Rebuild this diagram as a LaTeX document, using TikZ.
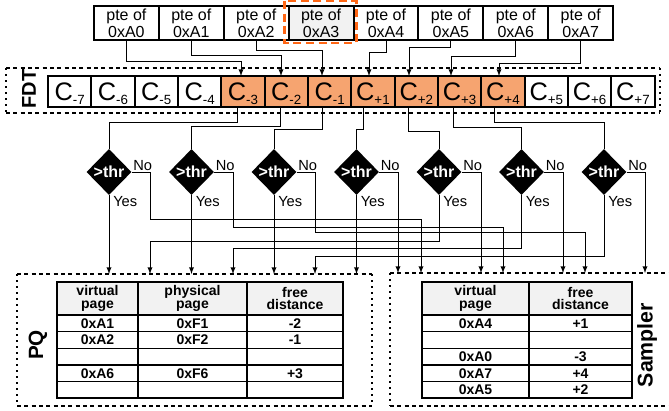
\documentclass[tikz,border=0pt]{standalone}
\usepackage{fontspec}
\setmainfont{Liberation Sans}
\usetikzlibrary{calc,positioning,arrows,shapes}
\definecolor{fdtorange}{RGB}{246,164,112}
\definecolor{hiorange}{RGB}{255,102,20}
\definecolor{hdrgray}{RGB}{242,242,242}
\newcommand{\fdtc}[1]{C\raisebox{-3.5pt}[0pt][0pt]{\fontsize{10}{10}\selectfont#1}}

\begin{document}
\begin{tikzpicture}[x=0.75pt,y=-0.75pt]
\tikzstyle{ptebox}=[draw, line width=1.5pt, minimum width=48.675pt, minimum height=25.5pt, inner sep=0pt, outer sep=0pt, align=center, font=\fontsize{12}{12.75}\selectfont]
\tikzstyle{cbox}=[draw, line width=1.5pt, minimum width=32.5pt, minimum height=23.25pt, inner sep=0pt, outer sep=0pt, font=\fontsize{19}{19}\selectfont]
\tikzstyle{hot}=[cbox, fill=fdtorange]
\tikzstyle{thr}=[diamond, fill=black, minimum width=33.75pt, minimum height=34.5pt, inner sep=0pt,
  label={[text=white, font=\fontsize{12}{12}\bfseries]center:>thr},
  label={[anchor=south west, inner sep=1pt, font=\fontsize{11}{11}\selectfont]east:No},
  label={[anchor=north west, inner sep=1pt, xshift=2pt, font=\fontsize{11}{11}\selectfont]south:Yes}]
\tikzstyle{wire}=[line width=0.75pt]
\tikzstyle{arr}=[wire, ->, >=latex]
\tikzstyle{frame}=[inner sep=0pt, outer sep=0pt]
\tikzstyle{boxdash}=[line width=1pt, dash pattern=on 3pt off 2.5pt]
\tikzstyle{boxdot}=[line width=1pt, dash pattern=on 1.5pt off 3pt]
\tikzstyle{hilite}=[draw=hiorange, line width=2.2pt, dash pattern=on 6pt off 3.5pt]
\tikzstyle{cell}=[inner sep=0pt, font=\fontsize{10.5}{10.5}\bfseries]
\tikzstyle{head}=[cell, align=center, font=\fontsize{10.5}{9.5}\bfseries]
\tikzstyle{side}=[rotate=90, inner sep=0pt, font=\fontsize{15.5}{15.5}\bfseries]

\clip (0,0) rectangle (669,411);

% frames
\node[frame, minimum width=490.5pt, minimum height=33.75pt] (fdt) at (333,90.5) {};
\node[frame, minimum width=266.25pt, minimum height=99pt] (pq) at (194.5,340) {};
\node[frame, minimum width=232.5pt, minimum height=99.75pt] (smp) at (545,339.5) {};
\draw[boxdash] (fdt.north west) -- (fdt.north east) (fdt.south west) -- (fdt.south east);
\draw[boxdot] (fdt.north west) -- (fdt.south west) (fdt.north east) -- (fdt.south east);
\draw[boxdash] (pq.north west) -- (pq.north east) (pq.south west) -- (pq.south east);
\draw[boxdot] (pq.north west) -- (pq.south west) (pq.north east) -- (pq.south east);
\draw[boxdash] (smp.north west) -- (smp.north east) (smp.south west) -- (smp.south east);
\draw[boxdot] (smp.north west) -- (smp.south west);

% page table entries
\node[ptebox] (pte0) at (126.4,23) {pte of\\0xA0};
\node[ptebox, right=0pt of pte0] (pte1) {pte of\\0xA1};
\node[ptebox, right=0pt of pte1] (pte2) {pte of\\0xA2};
\node[ptebox, fill=hdrgray, right=0pt of pte2] (pte3) {pte of\\0xA3};
\node[ptebox, right=0pt of pte3] (pte4) {pte of\\0xA4};
\node[ptebox, right=0pt of pte4] (pte5) {pte of\\0xA5};
\node[ptebox, right=0pt of pte5] (pte6) {pte of\\0xA6};
\node[ptebox, right=0pt of pte6] (pte7) {pte of\\0xA7};
\draw[hilite] ($(pte3.north west)+(-4,-5)$) rectangle ($(pte3.south east)+(2.5,3)$);

% FDT entries
\node[side, font=\fontsize{15}{15}\bfseries] (fdtlab) at (29,89) {FDT};
\node[cbox] (cm7) at (69.6,91.5) {\fdtc{-7}};
\node[cbox, right=0pt of cm7] (cm6) {\fdtc{-6}};
\node[cbox, right=0pt of cm6] (cm5) {\fdtc{-5}};
\node[cbox, right=0pt of cm5] (cm4) {\fdtc{-4}};
\node[hot, right=0pt of cm4] (cm3) {\fdtc{-3}};
\node[hot, right=0pt of cm3] (cm2) {\fdtc{-2}};
\node[hot, right=0pt of cm2] (cm1) {\fdtc{-1}};
\node[hot, right=0pt of cm1] (cp1) {\fdtc{+1}};
\node[hot, right=0pt of cp1] (cp2) {\fdtc{+2}};
\node[hot, right=0pt of cp2] (cp3) {\fdtc{+3}};
\node[hot, right=0pt of cp3] (cp4) {\fdtc{+4}};
\node[cbox, right=0pt of cp4] (cp5) {\fdtc{+5}};
\node[cbox, right=0pt of cp5] (cp6) {\fdtc{+6}};
\node[cbox, right=0pt of cp6] (cp7) {\fdtc{+7}};

\draw[arr] (pte0.south) |- (241,61) -- (241,0 |- cm3.north);
\draw[arr] (pte1.south) |- (281,55) -- (281,0 |- cm2.north);
\draw[arr] (pte2.south) |- (322,50) -- (322,0 |- cm1.north);
\draw[arr] (pte4.south) |- (369,52) -- (369,0 |- cp1.north);
\draw[arr] (pte5.south) |- (409,47) -- (409,0 |- cp2.north);
\draw[arr] (pte6.south) |- (451,56) -- (451,0 |- cp3.north);
\draw[arr] (pte7.south) |- (499,63) -- (499,0 |- cp4.north);

% threshold checks
\node[thr] (d1) at (109,172) {};
\node[thr] (d2) at (191.5,172) {};
\node[thr] (d3) at (274,172) {};
\node[thr] (d4) at (356.5,172) {};
\node[thr] (d5) at (439,172) {};
\node[thr] (d6) at (521.5,172) {};
\node[thr] (d7) at (604,172) {};

\draw[wire] (237,0 |- cm3.south) -- (237,122) -| (d1.north);
\draw[wire] (280,0 |- cm2.south) -- (280,126) -| (d2.north);
\draw[wire] (322,0 |- cm1.south) -- (322,129) -| (d3.north);
\draw[wire] (363,0 |- cp1.south) -- (363,129) -| (d4.north);
\draw[wire] (408,0 |- cp2.south) -- (408,131) -| (d5.north);
\draw[wire] (453,0 |- cp3.south) -- (453,127) -| (d6.north);
\draw[wire] (494,0 |- cp4.south) -- (494,122) -| (d7.north);

\draw[arr] (d1.south) -- (d1.south |- pq.north);
\draw[arr] (d2.south) -- (d2.south |- pq.north);
\draw[arr] (d3.south) -- (d3.south |- pq.north);
\draw[arr] (d4.south) -- (d4.south |- pq.north);
\draw[arr] (d5.south) |- (150,241) -- (150,0 |- pq.north);
\draw[arr] (d6.south) |- (233,248) -- (233,0 |- pq.north);
\draw[arr] (d7.south) |- (315,256) -- (315,0 |- pq.north);
\draw[arr] (d1.east) -| (150,219) -| (421,0 |- smp.north);
\draw[arr] (d2.east) -| (233,227) -| (503,0 |- smp.north);
\draw[arr] (d3.east) -| (315,232) -| (585,0 |- smp.north);
\draw[arr] (d4.east) -| (398,0 |- smp.north);
\draw[arr] (d5.east) -| (481,0 |- smp.north);
\draw[arr] (d6.east) -| (563,0 |- smp.north);
\draw[arr] (d7.east) -| (645,0 |- smp.north);

% PQ table
\node[side] (pqlab) at (38,345) {PQ};
\fill[hdrgray] (57,282) rectangle (343,315);
\draw[line width=1pt] (57,315) -- (343,315) (57,331.7) -- (343,331.7) (57,348.3) -- (343,348.3)
  (57,365) -- (343,365) (57,381.7) -- (343,381.7) (138,282) -- (138,398) (247,282) -- (247,398);
\draw[line width=1.5pt] (57,282) rectangle (343,398);
\node[head] (pqh1) at (97.5,298.5) {virtual\\page};
\node[head] (pqh2) at (192.5,298.5) {physical\\page};
\node[head] (pqh3) at (295,298.5) {free\\distance};
\node[cell] (pqa1) at (97.5,323.3) {0xA1};
\node[cell] (pqb1) at (192.5,323.3) {0xF1};
\node[cell] (pqc1) at (295,323.3) {-2};
\node[cell] (pqa2) at (97.5,340) {0xA2};
\node[cell] (pqb2) at (192.5,340) {0xF2};
\node[cell] (pqc2) at (295,340) {-1};
\node[cell] (pqa4) at (97.5,373.3) {0xA6};
\node[cell] (pqb4) at (192.5,373.3) {0xF6};
\node[cell] (pqc4) at (295,373.3) {+3};

% Sampler table
\node[side, font=\fontsize{16}{16}\bfseries] (smplab) at (647,345) {Sampler};
\fill[hdrgray] (422,282) rectangle (632,315);
\draw[line width=1pt] (422,315) -- (632,315) (422,331.7) -- (632,331.7) (422,348.3) -- (632,348.3)
  (422,365) -- (632,365) (422,381.7) -- (632,381.7) (529,282) -- (529,398);
\draw[line width=1.5pt] (422,282) rectangle (632,398);
\node[head] (smh1) at (475.5,298.5) {virtual\\page};
\node[head] (smh2) at (580.5,298.5) {free\\distance};
\node[cell] (sma1) at (475.5,323.3) {0xA4};
\node[cell] (smb1) at (580.5,323.3) {+1};
\node[cell] (sma3) at (475.5,356.7) {0xA0};
\node[cell] (smb3) at (580.5,356.7) {-3};
\node[cell] (sma4) at (475.5,373.3) {0xA7};
\node[cell] (smb4) at (580.5,373.3) {+4};
\node[cell] (sma5) at (475.5,390) {0xA5};
\node[cell] (smb5) at (580.5,390) {+2};
\end{tikzpicture}
\end{document}
